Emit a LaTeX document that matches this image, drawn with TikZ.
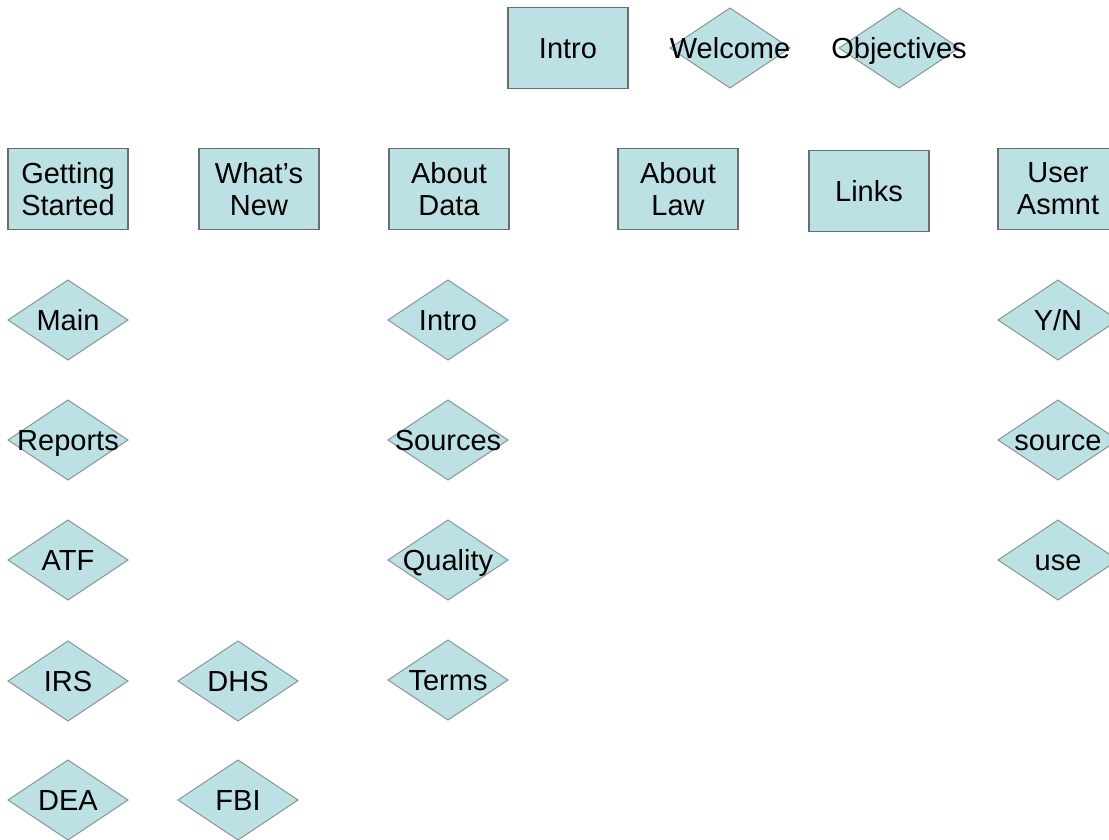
\documentclass[tikz,border=0pt]{standalone}
\usepackage{fontspec}
\setmainfont{Liberation Sans}
\definecolor{boxfill}{RGB}{187,225,229}
\definecolor{boxline}{RGB}{105,110,110}
\definecolor{diamline}{RGB}{135,140,140}
\begin{document}
\begin{tikzpicture}[x=1pt,y=-1pt,
  every node/.style={font=\fontsize{29}{32}\selectfont, text=black},
  pagebox/.style={draw=boxline, fill=boxfill, line width=1.2pt,
    minimum width=120pt, minimum height=81pt, inner sep=0pt, align=center},
  choice/.style={shape=rectangle, inner sep=0pt, minimum width=124pt, minimum height=84pt,
    text height=27pt, text depth=6pt,
    path picture={
      \path (path picture bounding box.center) coordinate (pc);
      \draw[diamline, fill=boxfill, line width=0.9pt]
        ([shift={(-60,0)}]pc) -- ([shift={(0,-40)}]pc) -- ([shift={(60,0)}]pc)
        -- ([shift={(0,40)}]pc) -- cycle;
    }}]
\useasboundingbox[fill=white] (0,0) rectangle (1109,840);

% top row
\node[pagebox, text height=27pt, text depth=6pt] (intro) at (568,48) {Intro};
\node[choice] (welcome) at (730,48) {Welcome};
\node[choice] (objectives) at (899,48) {Objectives};

% second row
\node[pagebox] (getting) at (68,189) {Getting\\Started};
\node[pagebox] (whatsnew) at (259,189) {What’s\\New};
\node[pagebox] (aboutdata) at (449,189) {About\\Data};
\node[pagebox] (aboutlaw) at (678,189) {About\\Law};
\node[pagebox, text height=27pt, text depth=6pt] (links) at (869,191) {Links};
\node[pagebox] (user) at (1058,189) {User\\Asmnt};

% Getting Started column
\node[choice] (main) at (68,320) {Main};
\node[choice] (reports) at (68,440) {Reports};
\node[choice] (atf) at (68,560) {ATF};
\node[choice] (irs) at (68,681) {IRS};
\node[choice] (dea) at (68,800) {DEA};

% What's New column
\node[choice] (dhs) at (238,681) {DHS};
\node[choice] (fbi) at (238,800) {FBI};

% About Data column
\node[choice] (dintro) at (448,320) {Intro};
\node[choice] (sources) at (448,440) {Sources};
\node[choice] (quality) at (448,560) {Quality};
\node[choice] (terms) at (448,680) {Terms};

% User Asmnt column
\node[choice] (yn) at (1058,320) {Y/N};
\node[choice] (source) at (1058,440) {source};
\node[choice] (use) at (1058,560) {use};
\end{tikzpicture}
\end{document}
